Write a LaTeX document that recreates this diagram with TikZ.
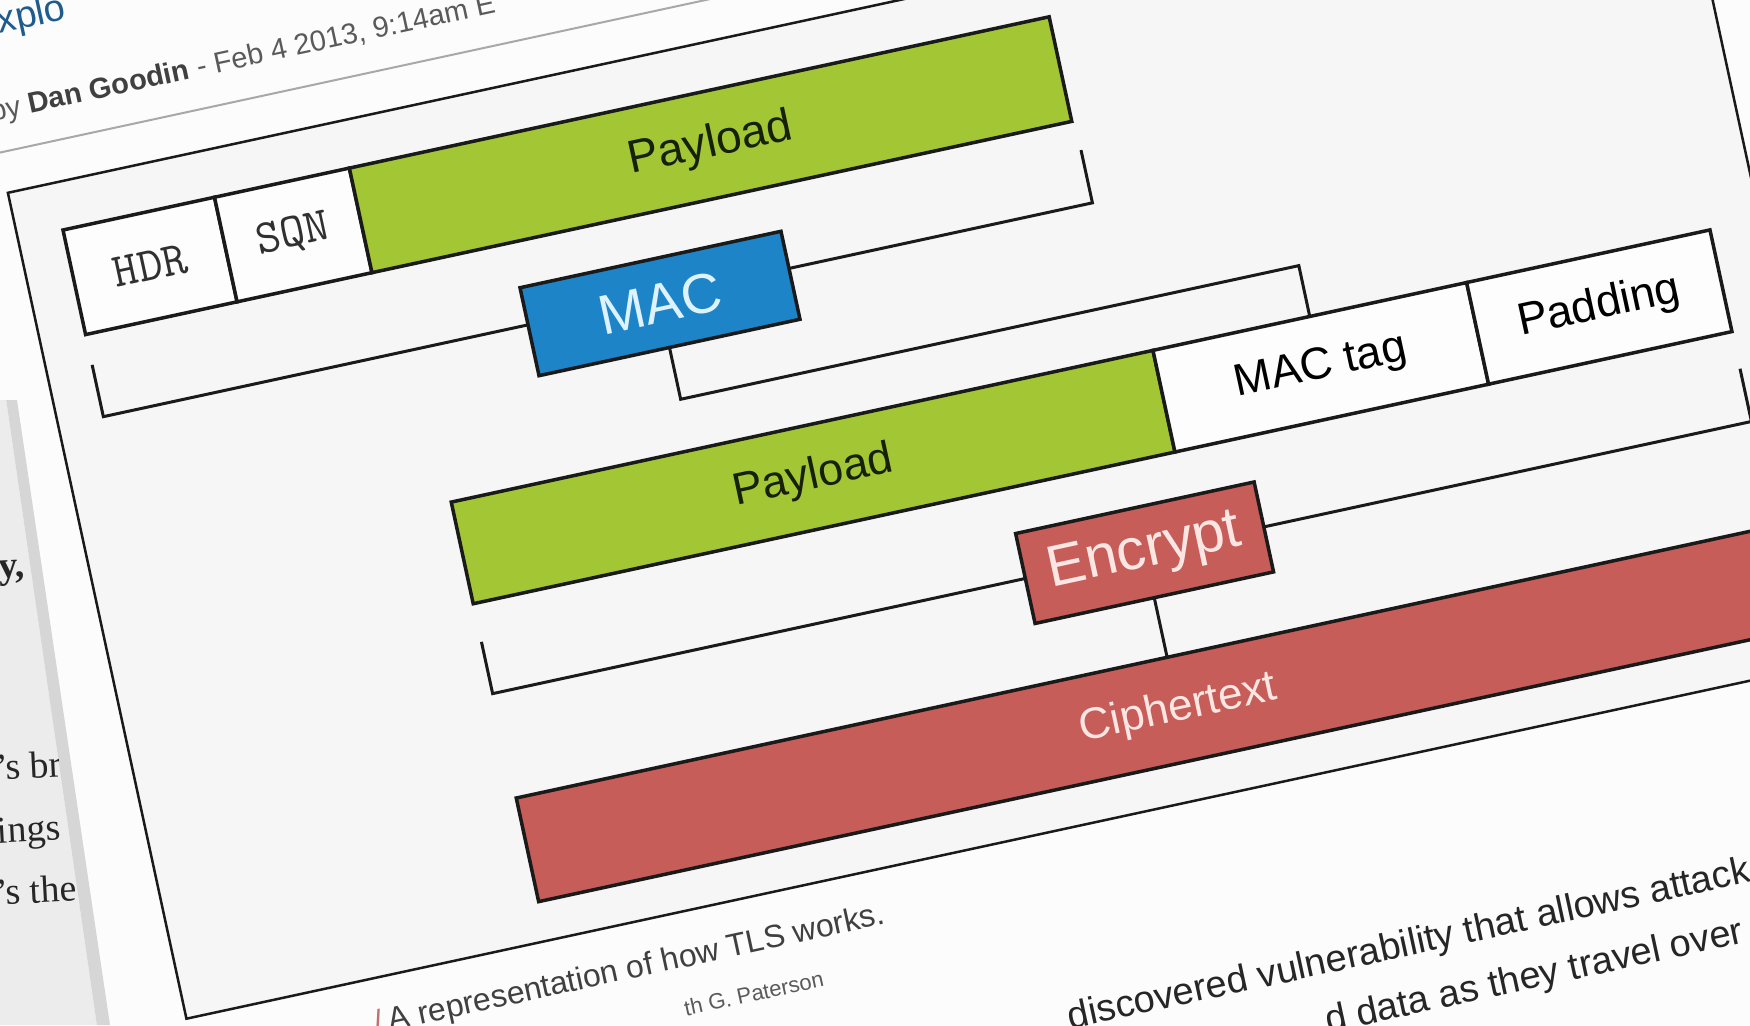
\documentclass[tikz,border=0pt]{standalone}
\usepackage{fontspec}
\setmainfont{Liberation Sans}
\newfontfamily\seriffnt{Liberation Serif}

\definecolor{edge}{HTML}{1A1A1A}
\definecolor{paygreen}{RGB}{163,198,52}
\definecolor{paytext}{HTML}{16200A}
\definecolor{macblue}{RGB}{30,132,200}
\definecolor{mactext}{HTML}{DDF2FB}
\definecolor{encred}{RGB}{199,93,88}
\definecolor{enctext}{HTML}{FCE6E3}
\definecolor{framefill}{HTML}{F6F6F6}
\definecolor{cardwhite}{HTML}{FCFCFC}
\definecolor{cellwhite}{HTML}{FDFDFD}
\definecolor{monotext}{HTML}{303030}
\definecolor{pagegray}{HTML}{ECECEC}
\definecolor{bandgray}{HTML}{D6D6D6}
\definecolor{bodytext}{HTML}{262626}
\definecolor{metagray}{HTML}{5A5A5A}
\definecolor{rulegray}{HTML}{A8A8A8}
\definecolor{titleblue}{HTML}{1F5C8E}
\definecolor{slashred}{HTML}{C07070}
\definecolor{captext}{HTML}{404040}

\tikzset{
  fieldbox/.style={draw=edge, line width=3.5pt, inner sep=0pt, outer sep=0pt,
    anchor=north west, font=\fontsize{45}{45}\selectfont, text=black},
  whitebox/.style={fieldbox, fill=cellwhite},
  greenbox/.style={fieldbox, fill=paygreen, text=paytext},
  monobox/.style={whitebox, font=\ttfamily\fontsize{48}{48}\selectfont, text=monotext},
  opbox/.style={draw=edge, line width=3.5pt, inner sep=0pt, outer sep=0pt, anchor=center},
  wire/.style={draw=edge, line width=3pt},
  flat/.style={inner sep=0pt, outer sep=0pt, anchor=base west},
}

\begin{document}
\begin{tikzpicture}[x=1pt, y=-1pt]
\useasboundingbox (0,0) rectangle (1750,1025);
\clip (0,0) rectangle (1750,1025);
\fill[cardwhite] (0,0) rectangle (1750,1025);

% page behind the card, on the left
\fill[pagegray] (0,400) -- (6.2,400) -- (96.9,1025) -- (0,1025) -- cycle;
\fill[bandgray] (6.2,400) -- (17,400) -- (110,1025) -- (96.9,1025) -- cycle;
\begin{scope}
  \clip (0,400) -- (6.2,400) -- (96.9,1025) -- (0,1025) -- cycle;
  \begin{scope}[every node/.style={flat, rotate=3, text=bodytext,
      font=\seriffnt\fontsize{38}{38}\selectfont}]
    \node (bodyA) at (-1,578) {\bfseries y,};
    \node (bodyB) at (-4,780) {’s br};
    \node (bodyC) at (-2,843) {ings};
    \node (bodyD) at (-4,905) {’s the};
  \end{scope}
\end{scope}

% the card with the TLS record figure
\begin{scope}[shift={(63,230)}, rotate=12.2, transform shape]
  % heading and byline
  \node[flat, text=titleblue, font=\fontsize{38}{38}\selectfont] (title) at (-46,-205) {Explo};
  \node[flat, font=\fontsize{29}{29}\selectfont, text=metagray] (byline) at (-46,-121)
    {by {\bfseries\color{captext}Dan Goodin} - Feb 4 2013, 9:14am E};
  \draw[rulegray, line width=2pt] (-120,-89) -- (800,-89);

  % figure frame
  \filldraw[fill=framefill, draw=edge, line width=2.5pt] (-46,-48) rectangle (1661,797);

  % plaintext record
  \node[monobox, minimum width=155pt, minimum height=107pt] (hdr) at (0,0) {HDR};
  \node[monobox, minimum width=138pt, minimum height=107pt] (sqn) at (hdr.north east) {SQN};
  \node[greenbox, minimum width=716pt, minimum height=107pt,
        font=\fontsize{46}{46}\selectfont] (pay1) at (sqn.north east) {Payload};

  % padded record
  \node[greenbox, minimum width=718pt, minimum height=104pt] (pay2) at (322,348) {Payload};
  \node[whitebox, minimum width=321pt, minimum height=104pt] (mactag) at (pay2.north east) {MAC tag};
  \node[whitebox, minimum width=249pt, minimum height=104pt] (pad) at (mactag.north east) {Padding};

  % ciphertext
  \node[fieldbox, fill=encred, text=enctext, minimum width=1332pt, minimum height=106pt,
        font=\fontsize{44}{44}\selectfont] (cipher) at (323,651) {Ciphertext};

  % operations
  \node[opbox, fill=macblue, text=mactext, minimum width=267pt, minimum height=90pt,
        font=\fontsize{56}{56}\selectfont] (mac) at (568,198) {MAC};
  \node[opbox, fill=encred, text=enctext, minimum width=244pt, minimum height=92pt,
        font=\fontsize{58}{58}\selectfont] (enc) at (989,544) {Encrypt};

  % bracket under HDR..Payload into MAC
  \coordinate (b1a) at (0,138);
  \coordinate (b1b) at (0,191);
  \coordinate (b1c) at (1012,191);
  \coordinate (b1d) at (1012,137);
  \draw[wire] (b1a) -- (b1b) -- (mac.177);
  \draw[wire] (mac.3) -- (b1c) -- (b1d);

  % MAC output to the tag
  \coordinate (b2a) at (568,296);
  \coordinate (b2b) at (1200.5,296);
  \draw[wire] (mac.south) -- (b2a) -- (b2b) -- (mactag.north);

  % bracket under Payload..Padding into Encrypt
  \coordinate (b3a) at (322,491);
  \coordinate (b3b) at (322,544);
  \coordinate (b3c) at (1610,544);
  \coordinate (b3d) at (1610,490);
  \draw[wire] (b3a) -- (b3b) -- (enc.west);
  \draw[wire] (enc.east) -- (b3c) -- (b3d);

  % Encrypt output
  \draw[wire] (enc.south) -- (cipher.north);

  % caption
  \node[flat, font=\fontsize{32}{32}\selectfont, text=captext] (cap1) at (137,852)
    {{\color{slashred}/}\,A representation of how TLS works.};
  \node[inner sep=0pt, anchor=base east, font=\fontsize{22}{22}\selectfont, text=metagray]
    (cap2) at (585,900) {th G. Paterson};

  % article text below the figure
  \node[flat, font=\fontsize{38}{38}\selectfont, text=bodytext] (artA) at (816,994)
    {discovered vulnerability that allows attack};
  \node[flat, font=\fontsize{38}{38}\selectfont, text=bodytext] (artB) at (1067,1052)
    {d data as they travel over};
\end{scope}
\end{tikzpicture}
\end{document}
